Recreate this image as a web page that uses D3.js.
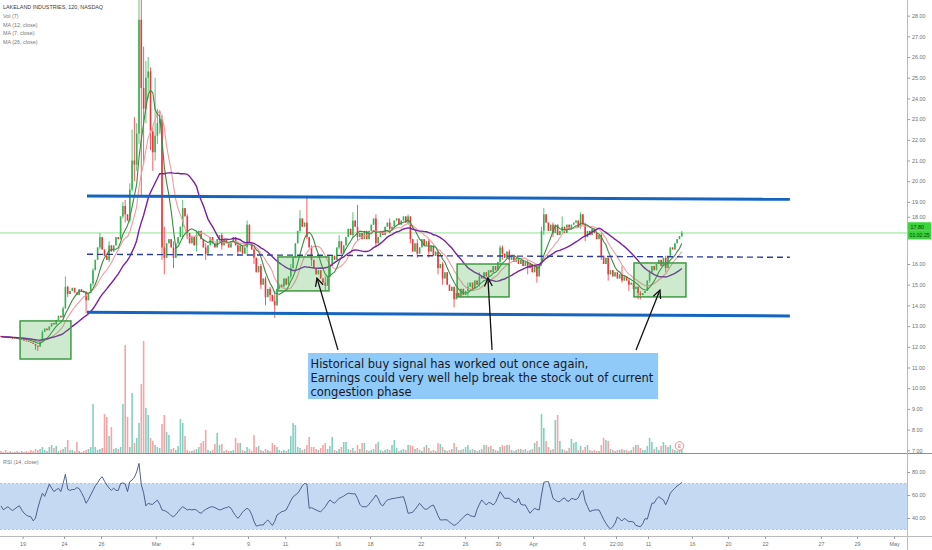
<!DOCTYPE html>
<html><head><meta charset="utf-8">
<script src="https://cdn.jsdelivr.net/npm/d3@7"></script>
<style>body{margin:0;background:#fff;}svg{display:block;font-family:"Liberation Sans",Arial,sans-serif;}</style>
</head><body><svg id="c" width="932" height="550"></svg>
<script>
// ---------- DATA (120-min bars) ----------
const firstOpen = 12.52;
const closes = [
12.50,12.47,12.45,12.48,12.42,12.40,12.43,12.38,12.35,12.37,
12.30,12.28,12.24,12.20,12.14,12.05,12.00,12.30,12.72,12.88,
12.80,12.98,13.15,13.08,13.30,13.50,13.42,13.85,14.90,14.55,
14.70,14.85,14.62,14.50,14.78,14.70,14.62,14.25,14.60,15.05,
15.70,16.20,16.80,17.30,16.70,16.40,16.20,16.90,16.60,16.90,
17.30,17.20,18.30,18.80,18.40,18.10,19.60,21.00,20.80,22.30,
27.80,24.50,23.50,25.00,25.30,22.40,21.40,22.20,22.80,23.00,
16.80,16.30,17.00,17.20,16.80,16.30,17.00,17.30,17.80,18.70,
18.30,17.50,17.00,17.30,16.90,17.40,17.60,17.20,16.80,16.50,
16.90,17.30,17.00,16.80,17.20,17.40,16.90,17.20,17.00,16.80,
17.10,17.30,16.90,16.60,16.90,16.50,16.80,17.90,17.00,16.70,
16.30,15.60,15.90,15.00,15.30,14.40,14.80,14.50,14.20,14.00,
14.80,15.00,14.90,15.30,15.00,15.40,15.80,16.30,17.00,17.60,
18.20,17.80,18.00,17.30,16.80,16.20,15.80,15.50,15.70,15.30,
15.10,14.95,15.40,15.90,16.40,16.20,16.80,17.10,16.50,16.90,
17.30,17.70,17.40,18.10,17.80,17.30,17.50,17.20,17.60,17.20,
17.60,17.90,18.20,17.00,17.30,17.60,17.40,17.80,18.00,17.70,
17.80,18.10,18.20,17.90,18.10,18.30,18.00,18.30,17.20,16.60,
17.00,16.50,16.80,17.20,16.90,17.10,16.60,16.90,16.40,16.60,
15.80,16.00,15.30,15.60,15.00,14.70,14.90,14.30,14.60,14.40,
14.80,14.50,14.70,14.90,15.10,14.80,15.20,15.00,15.40,15.30,
15.60,15.40,15.70,15.60,15.90,15.70,16.10,16.80,16.50,16.30,
16.60,16.20,16.40,16.10,16.30,16.00,16.20,15.90,16.10,15.80,
16.00,15.60,15.90,15.40,16.00,17.60,18.40,18.00,17.60,17.90,
17.50,17.90,17.40,17.60,17.80,17.50,17.90,17.70,17.90,18.00,
18.10,17.80,18.40,17.90,17.30,17.60,17.40,17.70,17.50,17.20,
17.40,16.40,16.00,16.30,15.50,15.70,15.40,15.60,15.30,15.50,
15.20,15.40,15.20,15.00,15.10,14.80,14.90,14.60,14.50,14.60,
14.70,15.20,15.60,15.90,15.70,16.00,16.20,15.90,16.30,15.80,
16.40,16.80,16.70,17.00,17.20,17.35,17.50];
// [bar, high, low] for bars whose wicks reach beyond the body
const wicks = [[15,12.12,11.85],[16,12.06,11.80],[18,12.80,12.25],[27,13.95,13.40],[28,15.40,13.85],[29,14.95,14.40],[37,14.70,13.62],[40,15.80,14.95],[43,17.50,16.70],[47,17.10,16.10],[53,19.00,18.20],[54,19.10,18.00],[56,19.90,18.00],[57,22.50,19.50],[58,23.10,20.00],[59,22.80,20.50],[60,29.50,21.80],[61,29.20,19.30],[62,26.50,20.80],[63,25.80,22.80],[64,26.00,24.00],[65,25.50,21.50],[66,22.60,20.50],[67,25.00,21.00],[68,23.50,21.80],[69,23.40,22.30],[70,23.20,16.20],[71,17.80,15.50],[75,17.10,15.80],[79,19.10,17.20],[81,18.40,17.20],[85,17.60,16.60],[89,17.00,16.20],[96,17.50,16.70],[103,17.10,16.40],[107,18.10,16.40],[110,16.80,16.00],[113,16.00,14.80],[115,15.40,14.00],[117,14.90,14.20],[119,14.70,13.40],[126,16.00,15.30],[130,18.60,17.50],[133,19.30,17.20],[135,16.90,15.90],[141,15.40,14.70],[147,17.40,16.70],[153,18.50,17.30],[155,18.85,17.10],[163,18.40,16.80],[169,18.20,17.50],[177,18.40,17.90],[178,18.30,17.00],[181,17.20,16.30],[186,17.20,16.30],[190,16.50,15.50],[192,16.10,15.00],[197,14.90,13.90],[203,15.10,14.40],[208,15.60,14.90],[217,16.90,16.00],[218,16.90,16.20],[221,16.70,15.90],[229,16.20,15.50],[233,15.90,15.10],[235,17.80,15.90],[236,18.70,17.40],[240,18.00,17.30],[244,18.30,17.50],[252,18.50,17.70],[254,18.00,17.10],[261,17.50,16.20],[264,16.30,15.20],[270,15.90,15.10],[273,15.30,14.70],[277,14.90,14.30],[278,14.70,14.30],[282,15.70,15.10],[289,16.40,15.60],[296,17.60,17.30]];
// volume, thousands of shares
const volumes = [
20,10,30,10,20,10,10,20,10,20, 10,20,10,30,20,40,30,40,60,30,
20,60,80,50,70,20,30,40,60,130, 30,30,20,110,20,10,20,30,40,60,
490,60,30,40,50,390,360,170,260,40, 50,40,60,490,1080,360,60,600,100,150,
300,690,1120,450,380,150,120,80,60,50, 290,380,210,180,40,50,30,70,340,300,
170,30,20,20,30,40,60,100,120,230, 30,20,30,90,200,80,90,20,30,20,
20,30,150,100,100,30,20,60,40,20, 180,60,70,30,20,40,30,20,100,80,
60,30,20,30,20,40,170,300,280,60, 50,30,40,80,160,60,60,40,30,50,
80,100,40,70,160,30,20,40,60,110, 110,40,30,50,20,80,40,100,100,30,
20,30,40,90,110,30,20,30,40,30, 80,130,50,20,30,40,30,80,80,70,
40,50,30,20,60,80,50,20,30,20, 100,90,60,30,20,30,40,100,60,30,
30,40,60,80,30,40,30,20,30,40, 80,80,60,70,40,30,20,60,80,70,
80,80,30,20,30,40,40,30,40,20, 30,40,100,120,60,390,250,120,60,30,
40,330,380,120,40,30,20,50,140,100, 110,30,70,30,60,80,30,20,30,20,
20,80,150,130,120,40,30,20,30,30, 40,30,30,20,30,60,80,80,50,30,
30,70,150,110,40,60,30,70,110,80, 60,80,40,30,20,30,40];
// RSI (14, close)
const rsiValues = [
50.5,47.2,48.5,49.8,48,46.5,47.8,49.5,50.6,47, 44.3,42.5,41.5,41,37.5,40,48.5,55.5,61.5,58.8,
64,69.5,66,63,64.5,65.8,63,70,78,65, 64,64.8,64.8,66.5,65.5,62,58,52.8,56,60,
64,68,70.5,74,75.9,72,68.7,66,64,66, 64,64,70,70.5,69.5,63,71.6,73,75.5,80,
87.5,69,62,50.5,52.8,52,51.9,54,55.5,52, 47,46.5,45.5,44,42,41.1,43,45.5,48,49.8,
48.5,47,47.5,47,47.5,47,45,44.1,46,47.5, 48.5,49.5,49.8,49,48,47,47.5,48.5,49,49.8,
48.5,45,42,39.7,42,45,47,48.4,47,43, 37,33,33.5,34,33.9,36.5,38.3,36,33.5,37,
42.6,44,45.5,46,47,51,55,58.5,60,61.5, 64.5,68,70,69.5,48.4,49,48,47,46,45.5,
47.5,49.8,53,55.7,54,52.8,55,57.1,58,59, 60.5,61.5,61.3,61,61,57,52,49.8,49.8,49.8,
52,54.5,57,60,57,52,50.5,53.5,55.7,56.2, 56.8,57.1,57.5,57.8,58.2,58.5,52,44.1,44.5,45,
47.5,50,52.8,50.5,48,47.5,49,50.5,51.3,47, 42,38.3,38.3,38.5,38.3,36.5,35,33.5,34.5,36.5,
38.5,40.5,42.6,43.5,42,41.5,41.1,47.5,52,55.7, 53.5,51.3,53.5,53,51.3,53.5,58,62.9,60,57.1,
57.2,57,55.5,54,53.3,57.1,52,51.3,51.3,47.5, 44.1,46.5,48.4,47.5,47,60,71,71.6,71.6,65,
57.1,55.5,54.2,54.2,56.5,57.5,55,54.5,57.1,56.5, 56,57.5,62,64,54.5,50,45.5,46.5,47,47,
47,43,38.8,35.5,32.4,30.5,32.5,35.5,41,39, 37.5,39.7,38.3,36.8,37,36.5,33.5,33,32.4,35,
39.5,39,46,52.8,53,56.5,58.5,57,55.7,51.5, 56,61.5,64,65.8,68,69.3,71];
const maPeriods = [12, 7, 26];
const priceTicks = [7,8,9,10,11,12,13,14,15,16,17,18,19,20,21,22,23,24,25,26,27,28];
const rsiTicks = [40,60,80];
const rsiBand = [30,70];
const timeLabels = ["19","24","26","Mar","4","9","11","16","18","22","26","30","Apr","6","22:00","11","16","20","22","27","29","May"];
const timeIndex  = [9.4,27.4,43.5,67.3,83.3,107.4,123.5,146.4,160.4,182.5,201.7,216.1,231.3,253.5,267.4,281.3,300.4,316.1,332.2,356.5,372.2,388.3];
const legendLines = ["LAKELAND INDUSTRIES, 120, NASDAQ","Vol (7)","MA (12, close)","MA (7, close)","MA (26, close)"];
const lastPriceLabel = 17.80, countdown = "01:02:25", hLinePrice = 17.5;
// drawings in [bar, price]
const channelUpper = [[37.4,19.285],[343,19.126]];
const channelLower = [[37.4,13.667],[343,13.488]];
const channelMid   = [[37.4,16.469],[343,16.324]];
const signalBoxes = [[[8.3,13.25],[30.4,11.41]],[[120.4,16.34],[142.6,14.70]],[[198.3,16.0],[220.9,14.41]],[[275.2,16.05],[297.8,14.41]]];
const arrows = [[[146.5,11.85],[137.4,15.32]],[[213.5,11.85],[211.7,15.32]],[[276.1,11.85],[286.5,14.74]]];
const noteBox = [[133.5,11.70],[285.7,9.478]];
const noteLines = ["Historical buy signal has worked out once again,","Earnings could very well help break the stock out of current","congestion phase"];
const earningsBar = 295;

// ---------- SCALES ----------
const svg = d3.select("#c");
const PR = 907.5, MB = 453.5, AX = 536.5;
const x  = d3.scaleLinear().domain([0,392]).range([1,902.6]);
const y  = d3.scaleLinear().domain([7,28]).range([450.3,15.6]);
const yv = d3.scaleLinear().domain([0,1120]).range([453,341]);
const yr = d3.scaleLinear().domain([30,70]).range([529.5,483.5]);

const wickMap = new Map(wicks.map(w=>[w[0],w]));
const bars = closes.map((c,i)=>{
  const o = i ? closes[i-1] : firstOpen;
  const w = wickMap.get(i);
  return {i,o,c,h:w?Math.max(w[1],o,c):Math.max(o,c),l:w?Math.min(w[2],o,c):Math.min(o,c),v:volumes[i],r:rsiValues[i]};
});
const sma = n => closes.map((c,i)=>d3.mean(closes.slice(Math.max(0,i-n+1),i+1)));

const UP="#36b256", DN="#f0353f", VUP="#86cfc0", VDN="#f5a5a8";

svg.append("defs").append("clipPath").attr("id","main").append("rect").attr("x",0).attr("y",0).attr("width",PR).attr("height",MB);
const main = svg.append("g").attr("clip-path","url(#main)");

// volume
main.append("g").selectAll("rect").data(bars).join("rect")
  .attr("x",d=>x(d.i)-0.8).attr("width",1.6)
  .attr("y",d=>yv(d.v)).attr("height",d=>453-yv(d.v))
  .attr("fill",d=>d.c>=d.o?VUP:VDN);

// horizontal light green line
main.append("line").attr("x1",0).attr("x2",PR).attr("y1",y(hLinePrice)).attr("y2",y(hLinePrice))
  .attr("stroke","#8fe38f").attr("stroke-width",1);

// candles
const cg = main.append("g");
cg.selectAll("line").data(bars).join("line")
  .attr("x1",d=>x(d.i)).attr("x2",d=>x(d.i)).attr("y1",d=>y(d.h)).attr("y2",d=>y(d.l))
  .attr("stroke",d=>d.c>=d.o?UP:DN).attr("stroke-width",0.8);
cg.selectAll("rect").data(bars).join("rect")
  .attr("x",d=>x(d.i)-0.8).attr("width",1.6)
  .attr("y",d=>y(Math.max(d.o,d.c))).attr("height",d=>Math.max(0.8,Math.abs(y(d.o)-y(d.c))))
  .attr("fill",d=>d.c>=d.o?UP:DN);

// moving averages
const maColors = {12:"#f39aa2",7:"#3d8b40",26:"#7b1fa2"};
const maWidth = {12:1.1,7:1.1,26:1.4};
maPeriods.forEach(n=>{
  main.append("path").datum(sma(n)).attr("fill","none").attr("stroke",maColors[n]).attr("stroke-width",maWidth[n])
    .attr("d",d3.line().x((d,i)=>x(i)).y(d=>y(d)));
});

// signal boxes
main.append("g").selectAll("rect").data(signalBoxes).join("rect")
  .attr("x",d=>x(d[0][0])).attr("y",d=>y(d[0][1]))
  .attr("width",d=>x(d[1][0])-x(d[0][0])).attr("height",d=>y(d[1][1])-y(d[0][1]))
  .attr("fill","rgba(76,175,80,0.28)").attr("stroke","#3f9a43").attr("stroke-width",1.5);

// channel lines
const seg = d3.line().x(d=>x(d[0])).y(d=>y(d[1]));
[channelUpper,channelLower].forEach(l=>main.append("path").attr("d",seg(l)).attr("stroke","#1565c0").attr("stroke-width",3).attr("fill","none"));
main.append("path").attr("d",seg(channelMid)).attr("stroke","#2c3e9c").attr("stroke-width",1.4).attr("stroke-dasharray","6,4").attr("fill","none");

// arrows
arrows.forEach(a=>{
  const x1=x(a[0][0]),y1=y(a[0][1]),x2=x(a[1][0]),y2=y(a[1][1]);
  const ang=Math.atan2(y2-y1,x2-x1), L=9, s=0.45;
  main.append("line").attr("x1",x1).attr("y1",y1).attr("x2",x2).attr("y2",y2).attr("stroke","#111").attr("stroke-width",1.3);
  main.append("path").attr("fill","none").attr("stroke","#111").attr("stroke-width",1.3)
    .attr("d",`M${x2-L*Math.cos(ang-s)},${y2-L*Math.sin(ang-s)}L${x2},${y2}L${x2-L*Math.cos(ang+s)},${y2-L*Math.sin(ang+s)}`);
});

// note box
const nx0=x(noteBox[0][0]), ny0=y(noteBox[0][1]), nx1=x(noteBox[1][0]), ny1=y(noteBox[1][1]);
main.append("rect").attr("x",nx0).attr("y",ny0).attr("width",nx1-nx0).attr("height",ny1-ny0).attr("fill","#90caf9");
const nt = main.append("g").attr("font-family","'Liberation Sans Narrow','DejaVu Sans Condensed',sans-serif").attr("fill","#15181f");
const lh=(ny1-ny0)/3.3;
noteLines.forEach((t,k)=>nt.append("text").attr("x",nx0+2.5).attr("y",ny0+lh*(k+0.8)).attr("dominant-baseline","middle").attr("font-size",15).text(t));
{ const w = nt.selectAll("text").nodes()[1].getComputedTextLength(); const fs = 15*(nx1-nx0-7)/w; nt.selectAll("text").attr("font-size",fs); }

// earnings marker
const eg = svg.append("g").attr("transform",`translate(${x(earningsBar)},446)`);
eg.append("circle").attr("r",4.3).attr("fill","#fff").attr("stroke","#e57373").attr("stroke-width",0.8);
eg.append("text").attr("text-anchor","middle").attr("dominant-baseline","central").attr("font-size",4.8).attr("fill","#e57373").text("E");

// RSI pane
svg.append("rect").attr("x",0).attr("width",PR).attr("y",yr(rsiBand[1])).attr("height",yr(rsiBand[0])-yr(rsiBand[1])).attr("fill","#c5daf2");
rsiBand.forEach(v=>svg.append("line").attr("x1",0).attr("x2",PR).attr("y1",yr(v)).attr("y2",yr(v)).attr("stroke","#a9b4c4").attr("stroke-width",0.7).attr("stroke-dasharray","2,2"));
svg.append("path").datum(bars).attr("fill","none").attr("stroke","#3d5280").attr("stroke-width",0.9)
  .attr("d",d3.line().x(d=>x(d.i)).y(d=>yr(d.r)));

// separators
svg.append("line").attr("x1",0).attr("x2",932).attr("y1",MB).attr("y2",MB).attr("stroke","#8a8d94").attr("stroke-width",1);
svg.append("line").attr("x1",0).attr("x2",932).attr("y1",AX).attr("y2",AX).attr("stroke","#b8bbc2").attr("stroke-width",1);
svg.append("line").attr("x1",PR).attr("x2",PR).attr("y1",0).attr("y2",550).attr("stroke","#b8bbc2").attr("stroke-width",1);

// price axis
const labTop = y(lastPriceLabel)-4.5, labBot = labTop+18;
const pa = svg.append("g").attr("transform",`translate(${PR},0)`)
  .call(d3.axisRight(y).tickValues(priceTicks).tickFormat(d3.format(".2f")).tickSize(2.5).tickPadding(2));
pa.select(".domain").remove();
pa.selectAll(".tick").each(function(d){
  const yy=y(d), g=d3.select(this);
  if (yy>labTop-4 && yy<labBot+8){ if (yy<labTop+4) g.attr("transform",`translate(0,${labTop-5})`); else g.remove(); }
});
const rsa = svg.append("g").attr("transform",`translate(${PR},0)`)
  .call(d3.axisRight(yr).tickValues(rsiTicks).tickFormat(d3.format(".2f")).tickSize(2.5).tickPadding(2));
rsa.select(".domain").remove();
[pa,rsa].forEach(g=>{g.selectAll("text").attr("font-size",5.4).attr("fill","#707070").attr("font-family","'Liberation Sans',sans-serif");g.selectAll("line").attr("stroke","#9a9a9a");});

// last price labels
svg.append("rect").attr("x",PR+0.5).attr("y",labTop).attr("width",23).attr("height",8.6).attr("fill","#3bd43b");
svg.append("rect").attr("x",PR+0.5).attr("y",labTop+8.6).attr("width",23).attr("height",8.6).attr("fill","#3bd43b");
svg.append("text").attr("x",PR+3).attr("y",labTop+4.5).attr("dominant-baseline","central").attr("font-size",5.4).attr("fill","#0c3d0c").text(d3.format(".2f")(lastPriceLabel));
svg.append("text").attr("x",PR+2).attr("y",labTop+13).attr("dominant-baseline","central").attr("font-size",5.2).attr("fill","#0c3d0c").text(countdown);

// time axis
const ta = svg.append("g").attr("transform",`translate(0,${AX})`)
  .call(d3.axisBottom(x).tickValues(timeIndex).tickFormat((d,i)=>timeLabels[i]).tickSize(2.5).tickPadding(3));
ta.select(".domain").remove();
ta.selectAll("text").attr("font-size",5.4).attr("fill","#707070");
ta.selectAll("line").attr("stroke","#9a9a9a");

// legends
const lg = svg.append("g").attr("font-size",5.4);
legendLines.forEach((t,k)=>lg.append("text").attr("x",3).attr("y",7.3+k*8.7).attr("dominant-baseline","central")
  .attr("fill",k?"#777":"#3a3a3a").text(t));
svg.append("text").attr("x",3).attr("y",462).attr("dominant-baseline","central").attr("font-size",5.4).attr("fill","#777").text("RSI (14, close)");
</script></body></html>
